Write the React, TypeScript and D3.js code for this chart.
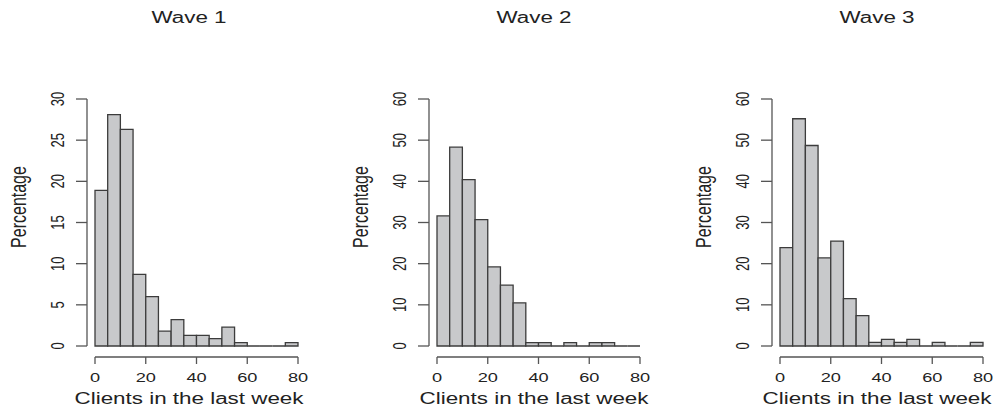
import React, { useEffect, useRef } from "react";
import * as d3 from "d3";

// bin edges (clients per week), bin width 5
const breaks = [0, 5, 10, 15, 20, 25, 30, 35, 40, 45, 50, 55, 60, 65, 70, 75, 80];

// percentage per bin
const wave1 = [18.9, 28.1, 26.3, 8.7, 6.0, 1.8, 3.2, 1.3, 1.3, 0.9, 2.3, 0.4, 0, 0, 0, 0.4];
const wave2 = [31.6, 48.3, 40.4, 30.7, 19.2, 14.8, 10.5, 0.8, 0.8, 0, 0.8, 0, 0.8, 0.8, 0, 0];
const wave3 = [23.9, 55.2, 48.7, 21.4, 25.5, 11.5, 7.4, 0.9, 1.6, 0.9, 1.6, 0, 0.9, 0, 0, 0.9];

const titles = ["Wave 1", "Wave 2", "Wave 3"];
const xTicks = [0, 20, 40, 60, 80];
const yTicks1 = [0, 5, 10, 15, 20, 25, 30];
const yTicks23 = [0, 10, 20, 30, 40, 50, 60];

const W = 993;
const H = 411;
const SX = 1.4; // the picture is stretched sideways, so text is too
const font = "'Liberation Sans', Arial, Helvetica, sans-serif";

const panels = [
  { title: titles[0], values: wave1, yTicks: yTicks1, yMax: 30, x0: 95, axisX: 87, cx: 189 },
  { title: titles[1], values: wave2, yTicks: yTicks23, yMax: 60, x0: 437, axisX: 429, cx: 534 },
  { title: titles[2], values: wave3, yTicks: yTicks23, yMax: 60, x0: 780, axisX: 772, cx: 877 },
];

const App = () => {
  const ref = useRef(null);

  useEffect(() => {
    const svg = d3.select(ref.current);
    svg.selectAll("*").remove();

    const yTop = 99;
    const yBottom = 346;
    const xAxisY = 357;

    const text = (g, x, y, str, size, rotate = false) =>
      g
        .append("text")
        .attr(
          "transform",
          `translate(${x},${y}) scale(${SX},1)` + (rotate ? " rotate(-90)" : "")
        )
        .attr("text-anchor", "middle")
        .attr("font-family", font)
        .attr("font-size", size)
        .attr("fill", "#222")
        .text(str);

    panels.forEach((p) => {
      const g = svg.append("g");

      const x = d3.scaleLinear().domain([0, 80]).range([p.x0, p.x0 + 203]);
      const y = d3.scaleLinear().domain([0, p.yMax]).range([yBottom, yTop]);

      // bars (paths so that empty bins still show as a line on the base)
      g.selectAll("path.bar")
        .data(p.values)
        .join("path")
        .attr("class", "bar")
        .attr("d", (d, i) => {
          const a = x(breaks[i]);
          const b = x(breaks[i + 1]);
          return `M${a},${y(0)}H${b}V${y(d)}H${a}Z`;
        })
        .attr("fill", "#c8c9cb")
        .attr("stroke", "#3c3c3c")
        .attr("stroke-width", 1.3);

      // x axis
      g.append("line")
        .attr("x1", x(0))
        .attr("x2", x(80))
        .attr("y1", xAxisY)
        .attr("y2", xAxisY)
        .attr("stroke", "#555")
        .attr("stroke-width", 1.3);
      xTicks.forEach((t) => {
        g.append("line")
          .attr("x1", x(t))
          .attr("x2", x(t))
          .attr("y1", xAxisY)
          .attr("y2", xAxisY + 7)
          .attr("stroke", "#555")
          .attr("stroke-width", 1.3);
        text(g, x(t), 382, String(t), 13);
      });

      // y axis
      g.append("line")
        .attr("x1", p.axisX)
        .attr("x2", p.axisX)
        .attr("y1", y(0))
        .attr("y2", y(p.yMax))
        .attr("stroke", "#555")
        .attr("stroke-width", 1.3);
      p.yTicks.forEach((t) => {
        g.append("line")
          .attr("x1", p.axisX - 11)
          .attr("x2", p.axisX)
          .attr("y1", y(t))
          .attr("y2", y(t))
          .attr("stroke", "#555")
          .attr("stroke-width", 1.3);
        text(g, p.axisX - 23, y(t), String(t), 13, true);
      });

      text(g, p.axisX - 61, 207, "Percentage", 16, true);
      text(g, p.cx, 404, "Clients in the last week", 16);
      text(g, p.cx, 23, p.title, 16);
    });
  }, []);

  return (
    <svg
      ref={ref}
      width={W}
      height={H}
      style={{ position: "absolute", left: 0, top: 0, background: "#fff" }}
    />
  );
};

export default App;
